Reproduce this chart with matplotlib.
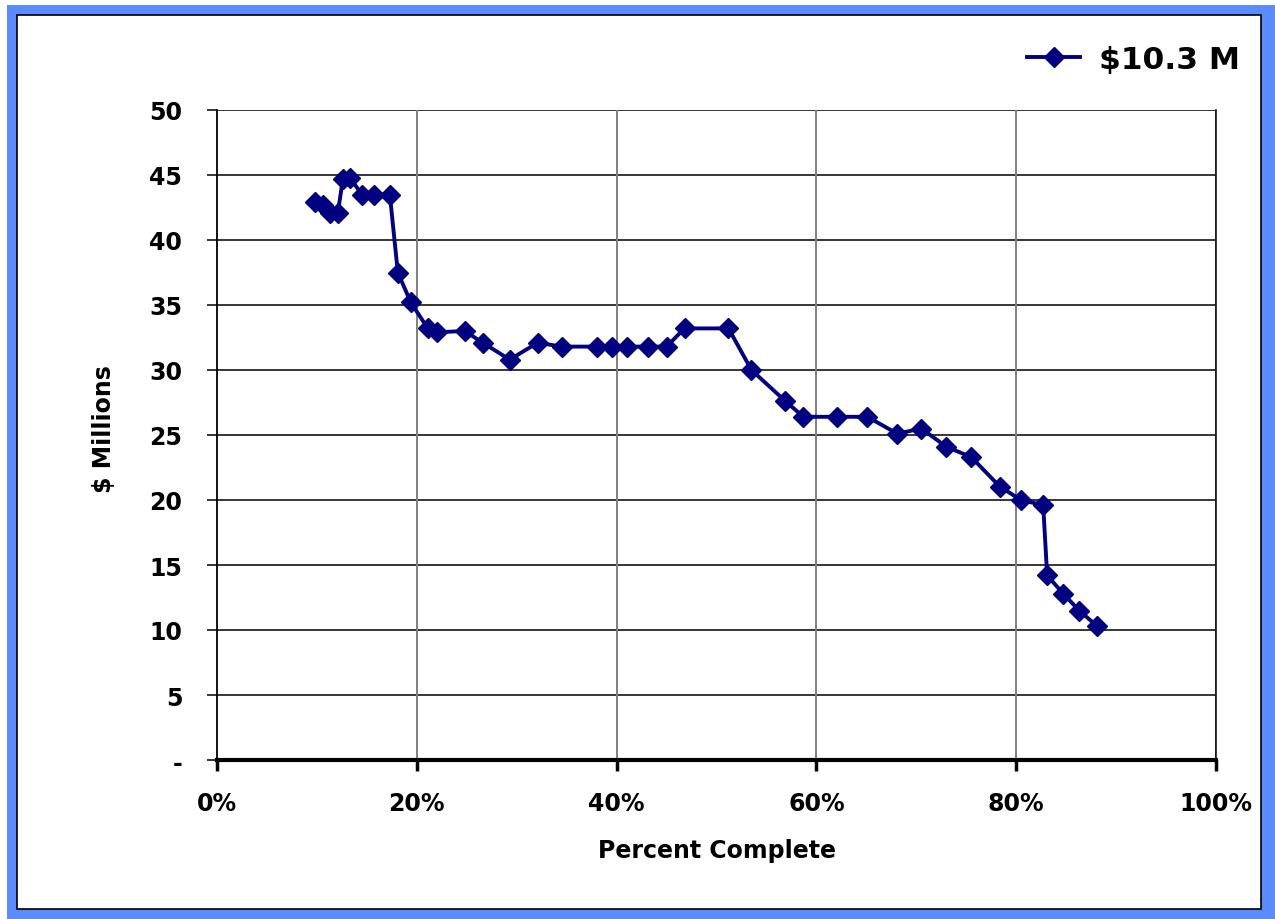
import matplotlib
matplotlib.use("Agg")
import matplotlib.pyplot as plt
from matplotlib.patches import Rectangle
from matplotlib.ticker import FuncFormatter

# percent complete (%) and estimate at completion ($ millions)
pct_complete = [9.8, 10.6, 11.3, 12.1, 12.6, 13.3, 14.5, 15.7, 17.3, 18.1,
                19.4, 21.1, 22.0, 24.8, 26.6, 29.3, 32.1, 34.5, 38.0, 39.5,
                41.0, 43.1, 45.0, 46.8, 51.2, 53.5, 56.9, 58.7, 62.1, 65.1,
                68.1, 70.5, 73.0, 75.5, 78.4, 80.5, 82.7, 83.1, 84.7, 86.3,
                88.1]
eac = [42.9, 42.7, 42.1, 42.1, 44.7, 44.8, 43.5, 43.5, 43.5, 37.5,
       35.2, 33.2, 32.9, 33.0, 32.1, 30.8, 32.1, 31.8, 31.8, 31.8,
       31.8, 31.8, 31.8, 33.2, 33.2, 30.0, 27.6, 26.4, 26.4, 26.4,
       25.1, 25.5, 24.1, 23.3, 21.0, 20.0, 19.6, 14.2, 12.8, 11.5,
       10.3]
series_label = "$10.3 M"
y_ticks = list(range(0, 51, 5))
x_ticks = list(range(0, 101, 20))

NAVY = "#000080"
FRAME = "#5b8cff"

plt.rcParams["font.family"] = ["DejaVu Sans"]
plt.rcParams["font.weight"] = "bold"

W, H = 1275, 920
fig = plt.figure(figsize=(W / 100, H / 100), dpi=100)

# outer blue frame with thin black inner border
fig.patches.append(Rectangle((7 / W, 0), 1 - 7 / W, 1 - 6 / H, transform=fig.transFigure,
                             facecolor=FRAME, edgecolor="none", zorder=-5))
fig.patches.append(Rectangle((17 / W, 10 / H), (1261 - 17) / W, (904 - 10) / H,
                             transform=fig.transFigure, facecolor="white",
                             edgecolor="black", lw=1.2, zorder=-4))

ax = fig.add_axes([217 / W, 1 - 761 / H, (1216 - 217) / W, (761 - 111) / H])
ax.set_zorder(2)
ax.set_facecolor("none")
ax.plot(pct_complete, eac, color=NAVY, lw=2.8, marker="D", ms=10.5,
        markeredgecolor=NAVY, label=series_label, zorder=5, clip_on=False)

ax.set_xlim(0, 100)
ax.set_ylim(0, 50)
ax.set_xticks(x_ticks)
ax.set_yticks(y_ticks)
ax.xaxis.set_major_formatter(FuncFormatter(lambda v, p: f"{v:.0f}%"))
ax.yaxis.set_major_formatter(FuncFormatter(lambda v, p: "-" if v == 0 else f"{v:.0f}"))

for y in y_ticks[1:]:
    ax.axhline(y, color="black", lw=1.1, zorder=1)
for x in x_ticks[1:]:
    ax.axvline(x, color="#808080", lw=1.4, zorder=1)

ax.spines["top"].set_visible(False)
ax.spines["right"].set_color("black")
ax.spines["right"].set_linewidth(1.1)
ax.spines["left"].set_linewidth(1.3)
ax.spines["bottom"].set_linewidth(3)

ax.tick_params(axis="x", direction="out", length=8, width=2.5, pad=14, labelsize=17)
ax.tick_params(axis="y", direction="out", length=7, width=1.1, pad=18, labelsize=17)

ax.set_xlabel("Percent Complete", fontsize=17, fontweight="bold", labelpad=17)
ax.set_ylabel("$ Millions", fontsize=17, fontweight="bold")
ax.yaxis.set_label_coords(-0.101, 0.51)

leg = ax.legend(loc="center right", bbox_to_anchor=(1240 / W, 1 - 60 / H),
                bbox_transform=fig.transFigure, frameon=False,
                fontsize=22.5, handlelength=1.7, handletextpad=0.6,
                borderpad=0, borderaxespad=0)

fig.savefig("out.png", dpi=100)
